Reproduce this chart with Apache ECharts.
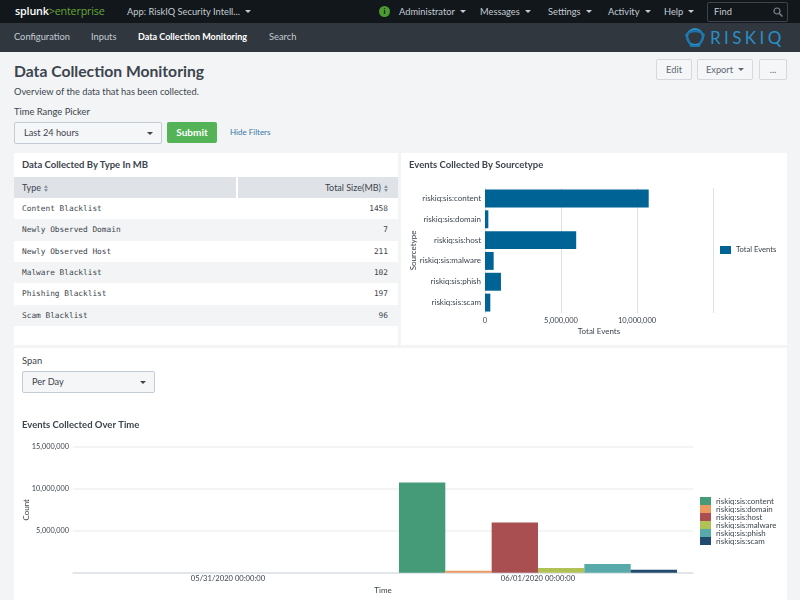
<!DOCTYPE html>
<html lang="en">
<head>
<meta charset="UTF-8">
<title>Data Collection Monitoring</title>
<script src="https://cdn.jsdelivr.net/npm/echarts@6/dist/echarts.min.js"></script>
<style>
  html, body { margin: 0; padding: 0; }
  body { width: 800px; height: 600px; overflow: hidden; position: relative; background: #f2f4f5; font-family: Lato, "Open Sans", sans-serif; color: #3c444d; }
  .abs { position: absolute; white-space: nowrap; }
  #topbar { left: 0; top: 0; width: 800px; height: 23px; background: #12171b; }
  #appbar { left: 0; top: 23px; width: 800px; height: 29px; background: #31373e; }
  .top { top: 5px; font-size: 9.3px; line-height: 13px; color: #c3cbd4; }
  .app { top: 30px; font-size: 9.3px; line-height: 14px; color: #c3cbd4; }
  .caret::after { content: ""; display: inline-block; margin-left: 5px; vertical-align: 2px; border: 3px solid transparent; border-top: 3px solid currentColor; border-bottom: 0; }
  .btn { top: 59px; height: 19px; line-height: 19px; text-align: center; font-size: 9.3px; color: #5c6773; background: #f5f6f7; border: 1px solid #d5d9dd; border-radius: 2px; }
  .panel { background: #fff; }
  .select { background: #f5f6f7; border: 1px solid #c3cbd4; border-radius: 2px; font-size: 9.2px; line-height: 19px; height: 20px; color: #3c444d; }
  .select span { position: absolute; left: 9px; }
  .select i { position: absolute; right: 8px; top: 9px; border: 3px solid transparent; border-top: 3px solid #3c444d; border-bottom: 0; }
  .row { left: 14px; width: 384px; height: 21.3px; line-height: 21px; font-family: "DejaVu Sans Mono", monospace; font-size: 7.8px; color: #3c444d; }
  .row b { font-weight: normal; position: absolute; left: 8px; }
  .row u { text-decoration: none; position: absolute; right: 10px; }
  .th { top: 177px; height: 21px; line-height: 21px; background: #dfe3e8; font-size: 9px; color: #3c444d; }
  .sort { display: inline-block; position: relative; width: 5px; height: 7px; margin-left: 3px; vertical-align: -1px; text-indent: 0; }
  .sort::before, .sort::after { content: ""; position: absolute; left: 0; border: 2.5px solid transparent; }
  .sort::before { top: 0; border-bottom: 3px solid #8a95a1; border-top: 0; }
  .sort::after { bottom: 0; border-top: 3px solid #8a95a1; border-bottom: 0; }
</style>
</head>
<body>
<div class="abs" id="topbar"></div>
<div class="abs" id="appbar"></div>

<!-- top nav -->
<div class="abs" style="left:15px;top:4px;font-size:10.8px;line-height:14px;font-family:'Open Sans',sans-serif;letter-spacing:-0.2px"><span style="color:#fff;font-weight:600">splunk</span><span style="color:#65a637">&gt;enterprise</span></div>
<div class="abs top caret" style="left:127px">App: RiskIQ Security Intell...</div>
<div class="abs" style="left:379px;top:6px;width:11px;height:11px;border-radius:50%;background:#4c9a32;color:#12171b;font-size:8px;line-height:11px;text-align:center;font-weight:bold">i</div>
<div class="abs top caret" style="left:399px">Administrator</div>
<div class="abs top caret" style="left:480px">Messages</div>
<div class="abs top caret" style="left:548px">Settings</div>
<div class="abs top caret" style="left:608px">Activity</div>
<div class="abs top caret" style="left:664px">Help</div>
<div class="abs" style="left:707px;top:2px;width:79px;height:18px;border:1px solid #3c444d;border-radius:2px;font-size:9.3px;line-height:18px;color:#c3cbd4;text-indent:6px">Find
  <svg style="position:absolute;right:4px;top:4px" width="10" height="10" viewBox="0 0 10 10"><circle cx="4" cy="4" r="3" fill="none" stroke="#7b8591" stroke-width="1.2"/><line x1="6.2" y1="6.2" x2="9.4" y2="9.4" stroke="#7b8591" stroke-width="1.4"/></svg>
</div>

<!-- app nav -->
<div class="abs app" style="left:14px">Configuration</div>
<div class="abs app" style="left:91px">Inputs</div>
<div class="abs app" style="left:138px;color:#fff;font-weight:bold;font-size:9px">Data Collection Monitoring</div>
<div class="abs app" style="left:269px">Search</div>
<svg class="abs" style="left:684px;top:26px" width="104" height="24" viewBox="0 0 104 24">
  <g fill="none" stroke="#2a8fc9" stroke-width="2">
    <circle cx="11" cy="11" r="8"/>
    <path d="M2 9 C6 4 16 4 20 9 L15 20 L7 20 Z" stroke="#1d77ad"/>
  </g>
  <text x="26" y="18" font-family="Lato, sans-serif" font-size="17" fill="#2a8fc9" letter-spacing="3.4">RISKIQ</text>
</svg>

<!-- page heading -->
<div class="abs" style="left:14px;top:61px;font-size:15.7px;line-height:20px;font-weight:bold;color:#3c444d">Data Collection Monitoring</div>
<div class="abs" style="left:14px;top:85px;font-size:9.3px;line-height:13px">Overview of the data that has been collected.</div>
<div class="abs" style="left:14px;top:105px;font-size:9.4px;line-height:13px">Time Range Picker</div>
<div class="abs select" style="left:14px;top:122px;width:146px"><span>Last 24 hours</span><i></i></div>
<div class="abs" style="left:167px;top:122px;width:50px;height:21px;background:#53b356;border-radius:2px;color:#fff;font-size:10px;font-weight:bold;line-height:21px;text-align:center">Submit</div>
<div class="abs" style="left:230px;top:126px;font-size:8px;line-height:12px;color:#3c78a8">Hide Filters</div>
<div class="abs btn" style="left:656px;width:34px">Edit</div>
<div class="abs btn caret" style="left:697px;width:54px">Export</div>
<div class="abs btn" style="left:759px;width:26px">...</div>

<!-- panels -->
<div class="abs panel" style="left:14px;top:153px;width:384px;height:192px"></div>
<div class="abs panel" style="left:401px;top:153px;width:386px;height:192px"></div>
<div class="abs panel" style="left:14px;top:348px;width:773px;height:252px"></div>

<div class="abs" style="left:22px;top:158px;font-size:9.5px;line-height:14px;font-weight:bold">Data Collected By Type In MB</div>
<div class="abs th" style="left:14px;width:222px;text-indent:8px">Type<span class="sort"></span></div>
<div class="abs th" style="left:238px;width:160px;text-align:right"><span style="margin-right:9px">Total Size(MB)<span class="sort"></span></span></div>
<div id="table"></div>

<div class="abs" style="left:22px;top:354px;font-size:9.4px;line-height:13px">Span</div>
<div class="abs select" style="left:22px;top:371px;width:131px"><span>Per Day</span><i></i></div>

<div class="abs" id="sourcetypeChart" style="left:401px;top:153px;width:386px;height:192px"></div>
<div class="abs" id="timeChart" style="left:14px;top:348px;width:773px;height:252px"></div>

<script>
var typeNames = ['Content Blacklist', 'Newly Observed Domain', 'Newly Observed Host', 'Malware Blacklist', 'Phishing Blacklist', 'Scam Blacklist'];
var typeSizes = [1458, 7, 211, 102, 197, 96];

var sourcetypes = ['riskiq:sis:content', 'riskiq:sis:domain', 'riskiq:sis:host', 'riskiq:sis:malware', 'riskiq:sis:phish', 'riskiq:sis:scam'];
var totalEvents = [10770000, 220000, 6000000, 570000, 1050000, 350000];

var timeLabels = ['05/31/2020 00:00:00', '06/01/2020 00:00:00'];
var contentCounts = [0, 10770000];
var domainCounts = [0, 220000];
var hostCounts = [0, 6000000];
var malwareCounts = [0, 570000];
var phishCounts = [0, 1050000];
var scamCounts = [0, 350000];

var seriesColors = ['#459b78', '#ec9960', '#a94f52', '#b0c255', '#58a9a9', '#214a6e'];
var textColor = '#3c444d';
var axisColor = '#dde1e6';
var gridColor = '#eef0f3';

// table rows
var html = '';
for (var i = 0; i < typeNames.length; i++) {
    var rowTop = 198 + i * 21.3;
    var bg = i % 2 == 0 ? '#fff' : '#f2f4f5';
    html += '<div class="abs row" style="top:' + rowTop + 'px;background:' + bg + '"><b>' + typeNames[i] + '</b><u>' + typeSizes[i] + '</u></div>';
}
document.getElementById('table').innerHTML = html;

function numberLabel(v) {
    return v == 0 ? '' : v.toLocaleString('en-US');
}

var sourcetypeChart = echarts.init(document.getElementById('sourcetypeChart'));
sourcetypeChart.setOption({
    animation: false,
    textStyle: { fontFamily: 'Lato' },
    title: {
        text: 'Events Collected By Sourcetype',
        left: 8, top: 7, padding: 0,
        textStyle: { fontSize: 9.5, fontWeight: 'bold', color: textColor }
    },
    grid: { left: 84, top: 35, width: 228, height: 125, outerBoundsMode: 'none' },
    legend: {
        data: ['Total Events'],
        left: 319, top: 93, padding: 0,
        icon: 'rect', itemWidth: 11, itemHeight: 8, itemGap: 0,
        textStyle: { fontSize: 7.6, color: textColor }
    },
    xAxis: {
        type: 'value', min: 0, max: 15000000, interval: 5000000,
        name: 'Total Events', nameLocation: 'middle', nameGap: 14, nameMoveOverlap: false,
        nameTextStyle: { fontSize: 8, color: textColor },
        axisLabel: { fontSize: 7.5, color: textColor, margin: 4, showMaxLabel: false,
            formatter: function (v) { return v.toLocaleString('en-US'); } },
        axisLine: { show: false }, axisTick: { show: false },
        splitLine: { lineStyle: { color: axisColor } }
    },
    yAxis: {
        type: 'category', data: sourcetypes, inverse: true,
        name: 'Sourcetype', nameLocation: 'middle', nameGap: 68, nameMoveOverlap: false,
        nameTextStyle: { fontSize: 8, color: textColor },
        axisLabel: { fontSize: 8, color: textColor, margin: 4 },
        axisLine: { lineStyle: { color: axisColor } },
        axisTick: { length: 4, lineStyle: { color: axisColor } }
    },
    series: [{
        name: 'Total Events', type: 'bar', data: totalEvents,
        barCategoryGap: '14%',
        itemStyle: { color: '#006396' }
    }]
});

var timeChart = echarts.init(document.getElementById('timeChart'));
var timeValues = [contentCounts, domainCounts, hostCounts, malwareCounts, phishCounts, scamCounts];
timeChart.setOption({
    animation: false,
    color: seriesColors,
    textStyle: { fontFamily: 'Lato' },
    title: {
        text: 'Events Collected Over Time',
        left: 8, top: 72, padding: 0,
        textStyle: { fontSize: 9.5, fontWeight: 'bold', color: textColor }
    },
    grid: { left: 59, top: 99, width: 620, height: 125.7, outerBoundsMode: 'none' },
    legend: {
        orient: 'vertical', left: 686, top: 149, padding: 0,
        icon: 'rect', itemWidth: 11, itemHeight: 8, itemGap: 0,
        textStyle: { fontSize: 7.9, lineHeight: 8, color: textColor }
    },
    xAxis: {
        type: 'category', data: timeLabels,
        name: 'Time', nameLocation: 'middle', nameGap: 14, nameMoveOverlap: false,
        nameTextStyle: { fontSize: 8, color: textColor },
        axisLabel: { fontSize: 7.6, color: textColor, margin: 2 },
        axisLine: { lineStyle: { color: axisColor, width: 1.5 } },
        axisTick: { length: 3, lineStyle: { color: axisColor } }
    },
    yAxis: {
        type: 'value', min: 0, max: 15000000, interval: 5000000,
        name: 'Count', nameLocation: 'middle', nameGap: 43, nameMoveOverlap: false,
        nameTextStyle: { fontSize: 8, color: textColor },
        axisLabel: { fontSize: 7.3, color: textColor, margin: 4, formatter: numberLabel },
        axisLine: { show: false }, axisTick: { show: false },
        splitLine: { lineStyle: { color: gridColor, width: 1.5 } }
    },
    series: sourcetypes.map(function (name, i) {
        return { name: name, type: 'bar', data: timeValues[i], barGap: 0, barCategoryGap: '10.3%' };
    })
});
</script>
</body>
</html>
